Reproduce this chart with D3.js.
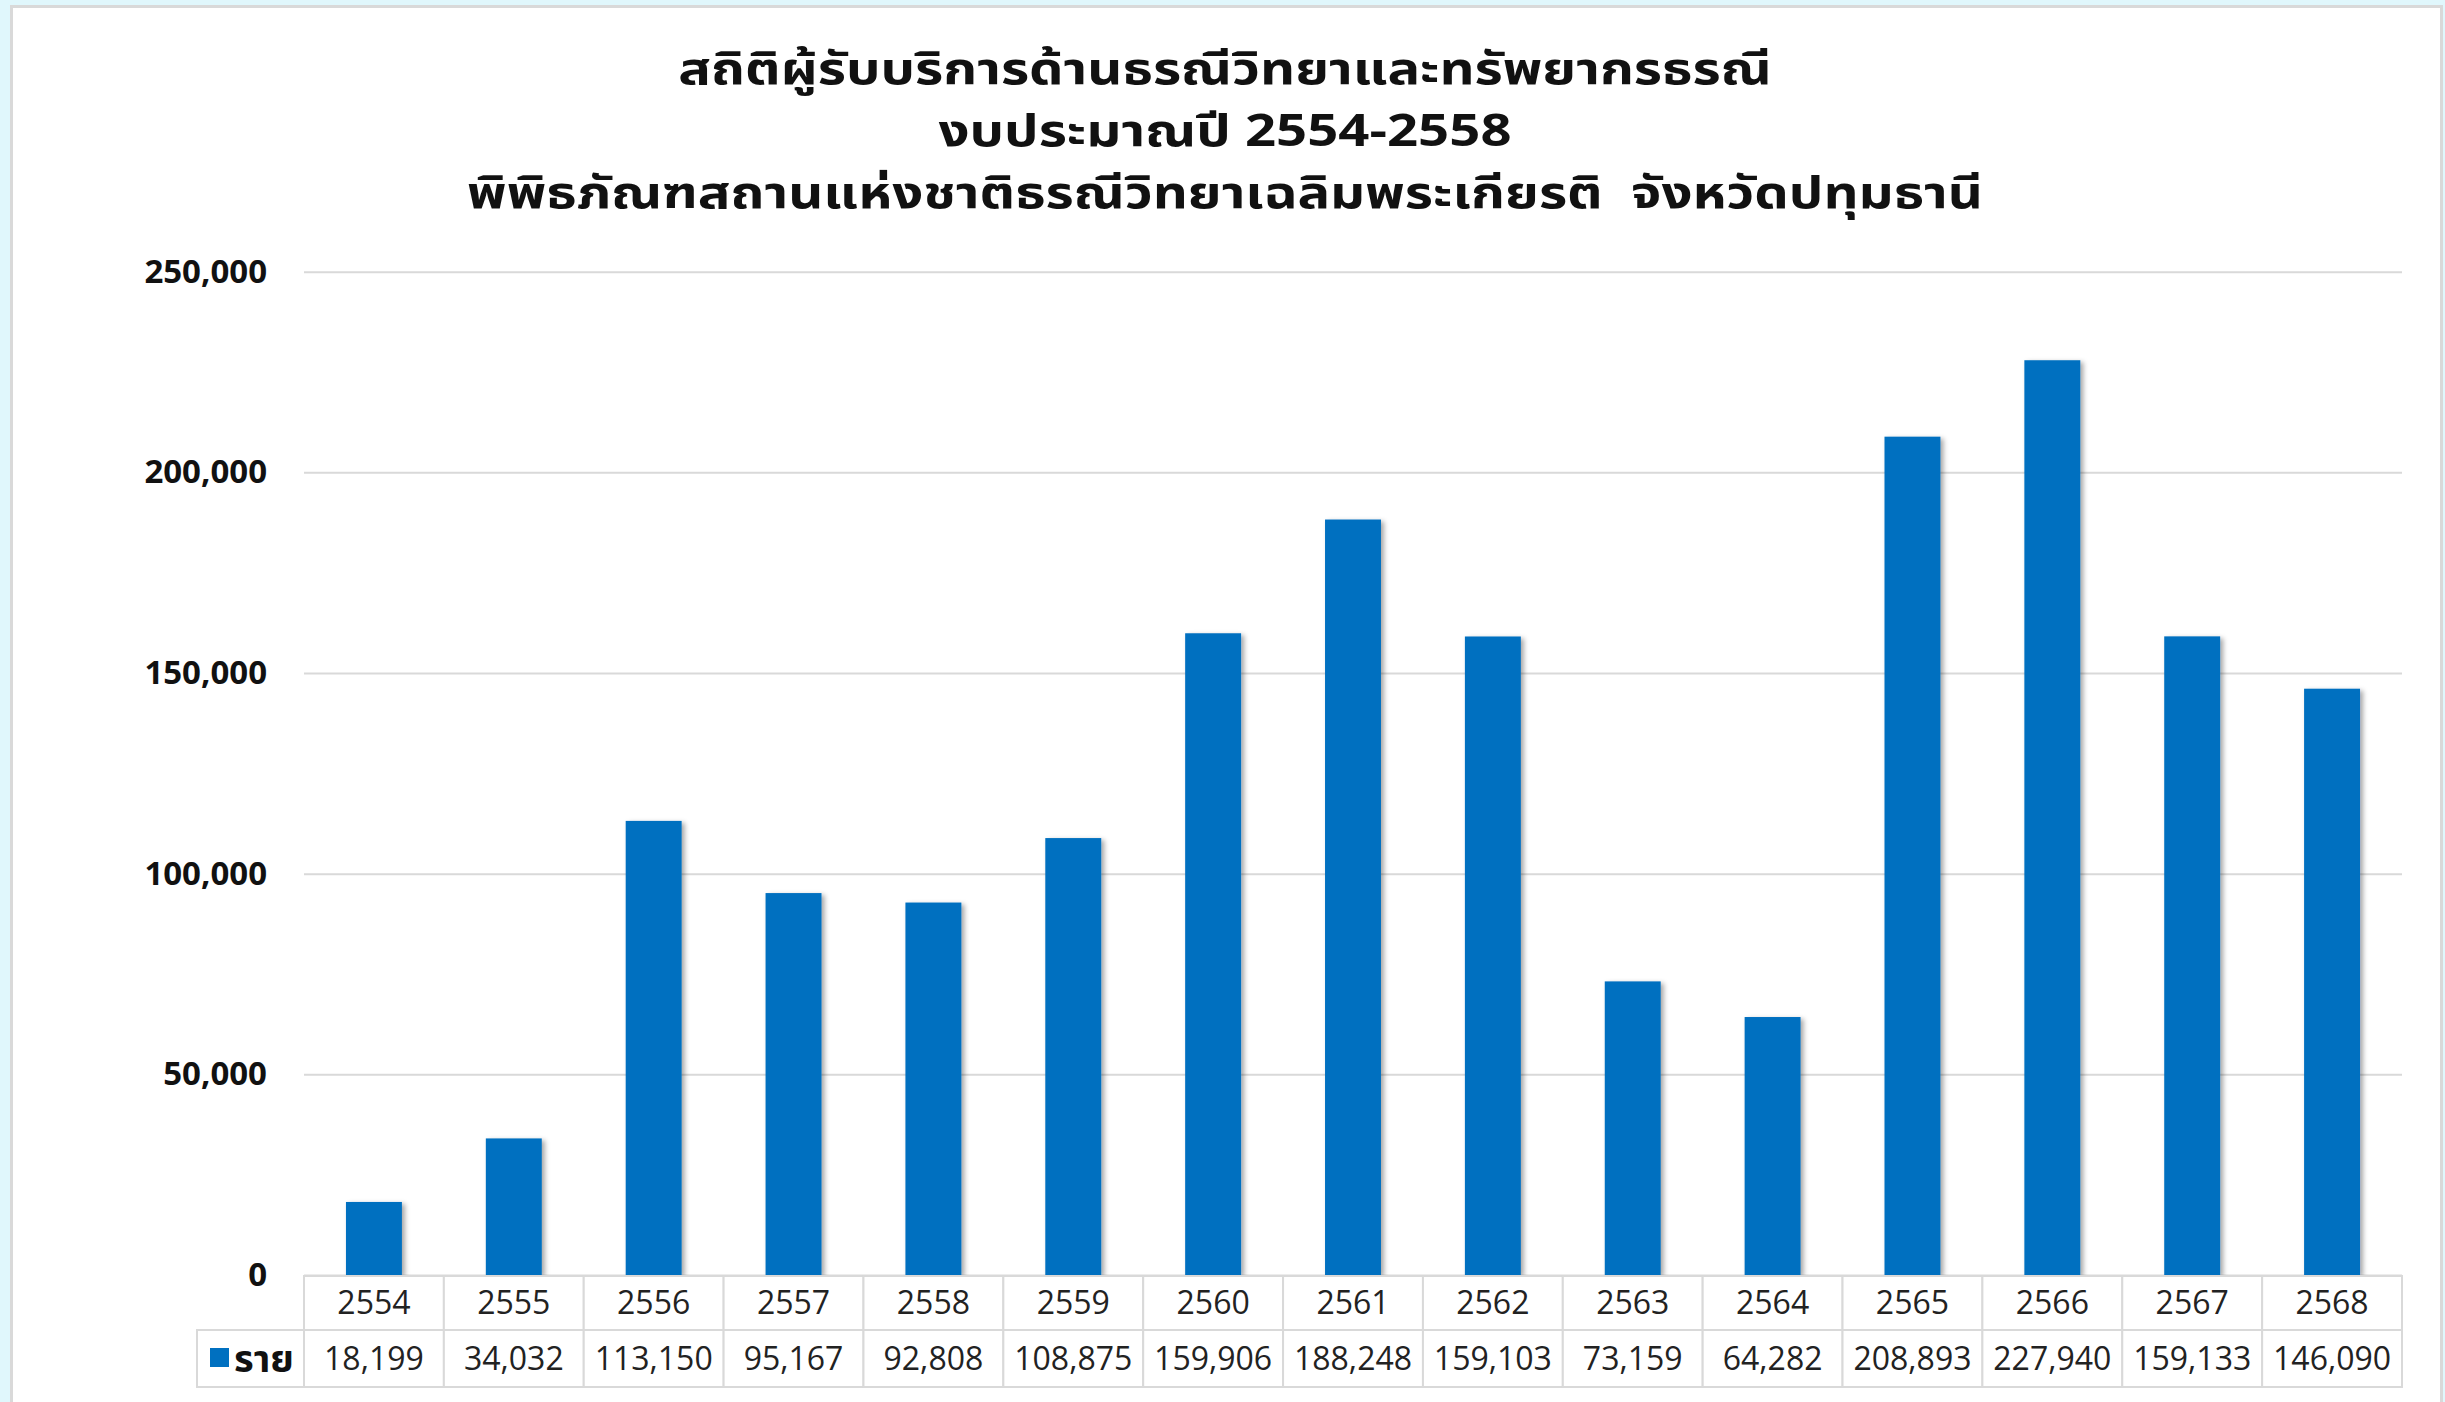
<!DOCTYPE html>
<html>
<head>
<meta charset="utf-8">
<script src="https://cdn.jsdelivr.net/npm/d3@7"></script>
<style>
  body { margin: 0; background: #e0f7fc; }
  svg { display: block; }
  .title { font-family: "Noto Sans Thai", "Tahoma", "Leelawadee UI", "Open Sans", sans-serif; font-weight: bold; font-size: 45px; fill: #111; white-space: pre; }
  .y.axis text { font-family: "Open Sans", sans-serif; font-weight: bold; font-size: 33px; fill: #111; }
  .y.axis line { stroke: #d9d9d9; stroke-width: 2; }
  .cell { fill: #fff; stroke: #d9d9d9; stroke-width: 2; }
  .cellText { font-family: "Open Sans", sans-serif; font-size: 32px; fill: #222; }
  .legendText { font-family: "Noto Sans Thai", "Tahoma", "Open Sans", sans-serif; font-weight: bold; font-size: 38px; fill: #111; }
</style>
</head>
<body>
<div id="chart"></div>
<script>
var titleLines = [
    "สถิติผู้รับบริการด้านธรณีวิทยาและทรัพยากรธรณี",
    "งบประมาณปี 2554-2558",
    "พิพิธภัณฑสถานแห่งชาติธรณีวิทยาเฉลิมพระเกียรติ  จังหวัดปทุมธานี"
];
var years = ["2554", "2555", "2556", "2557", "2558", "2559", "2560", "2561",
             "2562", "2563", "2564", "2565", "2566", "2567", "2568"];
var visitors = [18199, 34032, 113150, 95167, 92808, 108875, 159906, 188248,
                159103, 73159, 64282, 208893, 227940, 159133, 146090];
var yTicks = [0, 50000, 100000, 150000, 200000, 250000];
var seriesName = "ราย";

function init() {
    var W = 2445, H = 1402;
    var left = 304, right = 2402, top = 271.7, bottom = 1275;

    var data = years.map(function(d, i) { return {year: d, value: visitors[i]}; });

    var x = d3.scaleBand().domain(years).range([left, right]).paddingInner(0.6).paddingOuter(0.3),
        xCell = d3.scaleBand().domain(years).range([left, right]),
        y = d3.scaleLinear().domain([0, 250000]).range([bottom, top]);

    var svg = d3.select("#chart").append("svg")
        .attr("width", W)
        .attr("height", H);

    var defs = svg.append("defs");
    defs.append("filter").attr("id", "shadow")
        .attr("x", "-20%").attr("y", "-5%").attr("width", "150%").attr("height", "115%")
        .append("feDropShadow")
        .attr("dx", 3).attr("dy", 2).attr("stdDeviation", 2.5)
        .attr("flood-color", "#000").attr("flood-opacity", 0.35);

    // chart area frame
    svg.append("rect")
       .attr("x", 11.5).attr("y", 6.5)
       .attr("width", 2430).attr("height", 1410)
       .attr("fill", "#fff")
       .attr("stroke", "#d9d9d9")
       .attr("stroke-width", 3);

    // title font is tall and narrow in the original, stretch sideways instead of up
    svg.selectAll(".title")
       .data(titleLines)
       .enter().append("text")
       .attr("class", "title")
       .attr("transform", function(d, i) {
           return "translate(1225," + (84 + i * 62) + ") scale(1.21,1)";
       })
       .attr("text-anchor", "middle")
       .text(function(d) { return d; });

    var yAxis = d3.axisLeft(y)
        .tickValues(yTicks)
        .tickSize(-(right - left))
        .tickPadding(37)
        .tickFormat(d3.format(","));

    svg.append("g")
       .attr("class", "y axis")
       .attr("transform", "translate(" + left + ",0)")
       .call(yAxis)
       .call(function(g) { g.select(".domain").remove(); });

    svg.selectAll(".bar")
       .data(data)
       .enter().append("rect")
       .attr("class", "bar")
       .attr("x", function(d) { return x(d.year); })
       .attr("width", x.bandwidth())
       .attr("y", function(d) { return y(d.value); })
       .attr("height", function(d) { return y(0) - y(d.value); })
       .attr("fill", "#0070c0")
       .attr("filter", "url(#shadow)");

    // data table under the axis
    var rowH = [1276, 1330, 1387];
    var table = svg.append("g").attr("class", "table");

    table.selectAll(".headCell")
       .data(years)
       .enter().append("rect")
       .attr("class", "cell")
       .attr("x", function(d) { return xCell(d); })
       .attr("y", rowH[0])
       .attr("width", xCell.bandwidth())
       .attr("height", rowH[1] - rowH[0]);

    table.selectAll(".valCell")
       .data(data)
       .enter().append("rect")
       .attr("class", "cell")
       .attr("x", function(d) { return xCell(d.year); })
       .attr("y", rowH[1])
       .attr("width", xCell.bandwidth())
       .attr("height", rowH[2] - rowH[1]);

    table.append("rect")
       .attr("class", "cell")
       .attr("x", 197)
       .attr("y", rowH[1])
       .attr("width", left - 197)
       .attr("height", rowH[2] - rowH[1]);

    table.selectAll(".yearText")
       .data(years)
       .enter().append("text")
       .attr("class", "cellText")
       .attr("x", function(d) { return xCell(d) + xCell.bandwidth() / 2; })
       .attr("y", (rowH[0] + rowH[1]) / 2)
       .attr("dy", "0.35em")
       .attr("text-anchor", "middle")
       .text(function(d) { return d; });

    table.selectAll(".valText")
       .data(data)
       .enter().append("text")
       .attr("class", "cellText")
       .attr("x", function(d) { return xCell(d.year) + xCell.bandwidth() / 2; })
       .attr("y", (rowH[1] + rowH[2]) / 2)
       .attr("dy", "0.35em")
       .attr("text-anchor", "middle")
       .text(function(d) { return d3.format(",")(d.value); });

    table.append("rect")
       .attr("x", 210).attr("y", 1348)
       .attr("width", 19).attr("height", 19)
       .attr("fill", "#0070c0");

    table.append("text")
       .attr("class", "legendText")
       .attr("x", 234)
       .attr("y", (rowH[1] + rowH[2]) / 2)
       .attr("dy", "0.35em")
       .text(seriesName);
}
init();
</script>
</body>
</html>
